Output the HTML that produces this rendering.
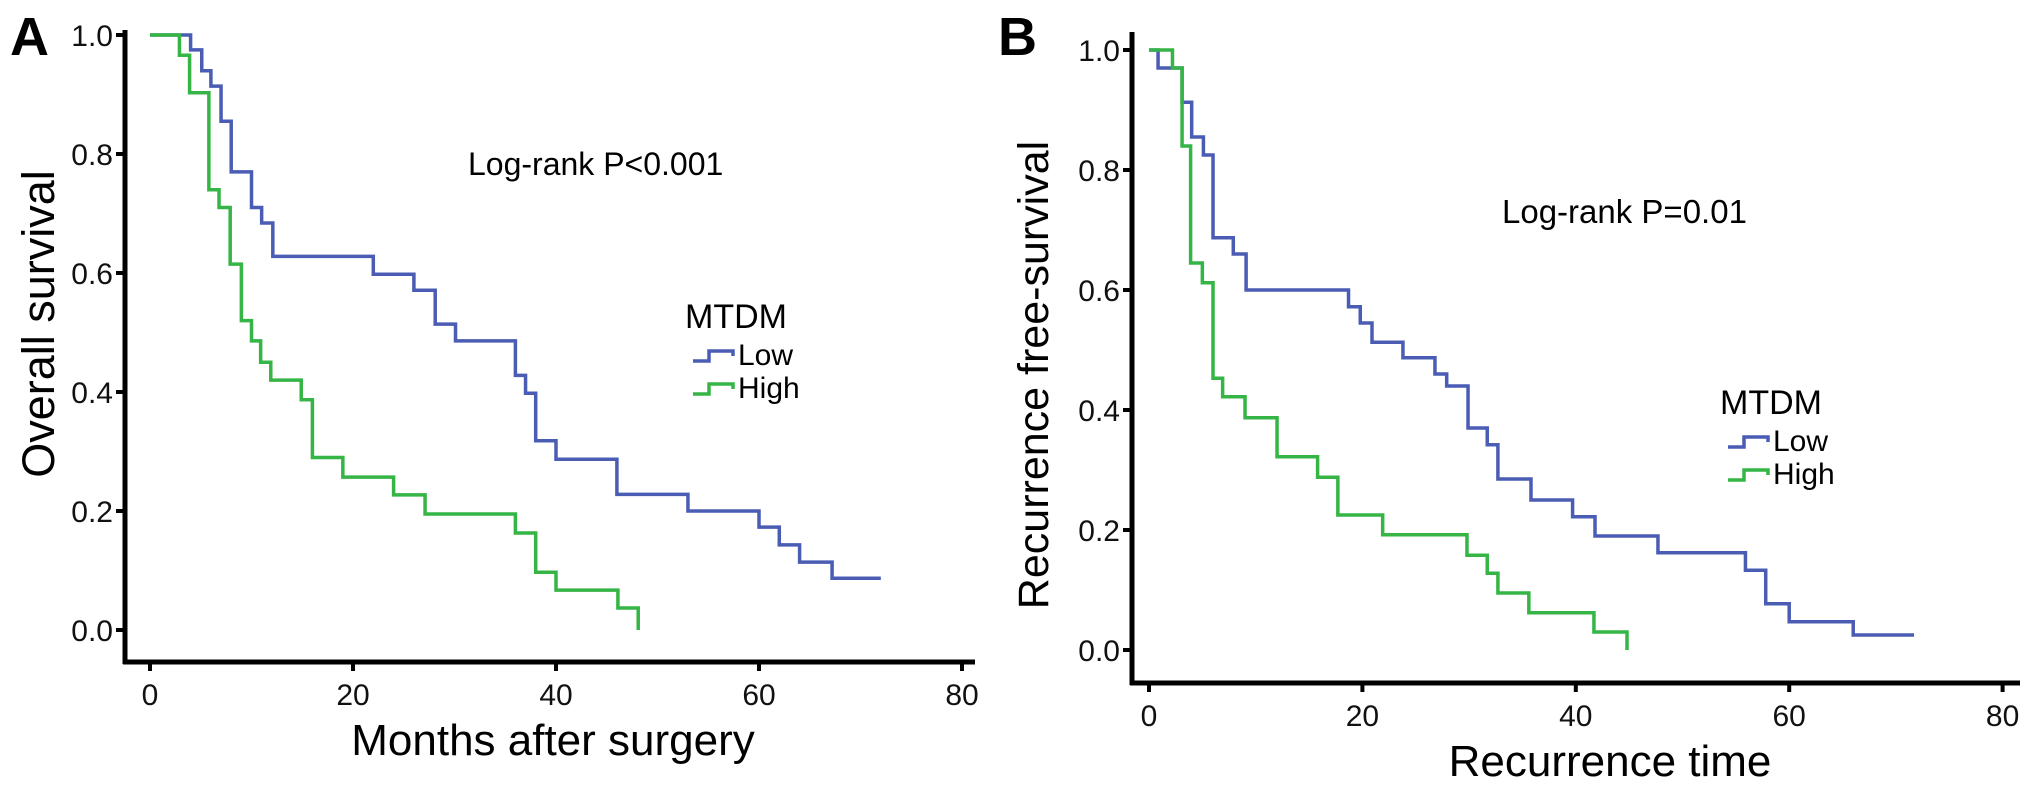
<!DOCTYPE html>
<html><head><meta charset="utf-8"><style>
html,body{margin:0;padding:0;background:#fff;}
svg{display:block;font-family:"Liberation Sans",Arial,sans-serif;}
</style></head><body>
<svg id="fig" width="2031" height="785" viewBox="0 0 2031 785"></svg>
<script>
// Panel A: overall survival (time in months, survival at/after each step)
const aLowTimes = [0,4,5.1,6,7,8,10,11,12.1,22,26,28.1,30.1,36,37,38,40,46,53,60,62,64,67.2,72];
const aLowSurv  = [1,0.975,0.94,0.914,0.855,0.77,0.71,0.684,0.628,0.598,0.571,0.514,0.486,0.428,0.398,0.318,0.287,0.228,0.2,0.173,0.143,0.114,0.087,0.087];
const aHighTimes = [0,2.9,3.9,5.8,6.8,7.9,9,10,10.9,11.9,14.9,16,19,24,27.1,36,38,40,46.1,48.1];
const aHighSurv  = [1,0.966,0.903,0.74,0.71,0.615,0.52,0.486,0.45,0.42,0.387,0.29,0.257,0.227,0.195,0.163,0.097,0.067,0.037,0.0];
// Panel B: recurrence free survival
const bLowTimes = [0,0.85,3.1,4,5.1,6,7.9,9.1,18.7,19.8,20.9,23.8,26.8,27.9,29.9,31.7,32.7,35.8,39.7,41.8,47.7,55.9,57.8,60,66,71.7];
const bLowSurv  = [1,0.97,0.913,0.855,0.825,0.687,0.66,0.6,0.572,0.545,0.513,0.487,0.46,0.44,0.37,0.342,0.285,0.25,0.222,0.19,0.162,0.133,0.077,0.047,0.025,0.025];
const bHighTimes = [0,2.2,3.1,3.9,5,6,6.9,9,12,15.8,17.7,21.9,29.8,31.7,32.7,35.6,41.7,44.8];
const bHighSurv  = [1,0.97,0.84,0.645,0.612,0.453,0.422,0.387,0.322,0.288,0.225,0.192,0.158,0.128,0.095,0.062,0.03,0.0];
const xTicks = [0,20,40,60,80];
const yTicks = [0,0.2,0.4,0.6,0.8,1.0];
const yTickLabels = ["0.0","0.2","0.4","0.6","0.8","1.0"];

const NS="http://www.w3.org/2000/svg";
const svg=document.getElementById('fig');
function mk(tag,attrs,parent){const e=document.createElementNS(NS,tag);for(const k in attrs)e.setAttribute(k,attrs[k]);(parent||svg).appendChild(e);return e;}
function txt(s,attrs,parent){const e=mk('text',attrs,parent);e.textContent=s;return e;}

function panel(cfg){
  const g=mk('g',{});
  
  
  const X=m=>cfg.x0+m*cfg.xs, Y=s=>cfg.y0-s*cfg.ys;
  const ya=mk('line',{x1:cfg.ax,y1:cfg.yTop,x2:cfg.ax,y2:cfg.axY+2,stroke:'#000','stroke-width':5},g);
  
  
  const xa=mk('line',{x1:cfg.ax-2,y1:cfg.axY,x2:cfg.xEnd,y2:cfg.axY,stroke:'#000','stroke-width':5},g);
  
  
  yTicks.forEach((v,i)=>{
    const t=mk('line',{x1:cfg.ax-9,y1:Y(v),x2:cfg.ax,y2:Y(v),stroke:'#000','stroke-width':4},g);
    
    
    const l=txt(yTickLabels[i],{x:cfg.ax-12,y:Y(v)+11,'text-anchor':'end','font-size':30,fill:'#111'},g);
    
    
  });
  xTicks.forEach(v=>{
    const t=mk('line',{x1:X(v),y1:cfg.axY,x2:X(v),y2:cfg.axY+9,stroke:'#000','stroke-width':4},g);
    
    
    const l=txt(String(v),{x:X(v),y:cfg.axY+43,'text-anchor':'middle','font-size':30,fill:'#111'},g);
    
    
  });
  function curve(times,surv,color,name){
    let d='M'+X(times[0])+','+Y(surv[0]);
    for(let i=1;i<times.length;i++){d+=' H'+X(times[i])+' V'+Y(surv[i]);}
    const p=mk('path',{d:d,fill:'none',stroke:color,'stroke-width':3.5},g);
    
    
  }
  curve(cfg.lowT,cfg.lowS,'#4a5cb4','low-curve');
  curve(cfg.highT,cfg.highS,'#35b545','high-curve');
  const lt=txt(cfg.letter,{x:cfg.letterX,y:cfg.letterY,'font-size':54,'font-weight':'bold',fill:'#000'},g);
  
  
  const yt=txt(cfg.ytitle,{x:0,y:0,'text-anchor':'middle','font-size':cfg.yts,fill:'#000',transform:`translate(${cfg.ytx},${cfg.yty}) rotate(-90)`},g);
  
  
  const xt=txt(cfg.xtitle,{x:cfg.xtx,y:cfg.xty,'text-anchor':'middle','font-size':44,fill:'#000'},g);
  
  
  const pv=txt(cfg.ptext,{x:cfg.px,y:cfg.py,'font-size':cfg.ps,fill:'#000'},g);
  
  
  const lg=mk('g',{},g);
  
  
  const lh=txt('MTDM',{x:cfg.lx-8,y:cfg.ly,'font-size':34,fill:'#000'},lg);
  
  
  [['Low','#4a5cb4'],['High','#35b545']].forEach((e,i)=>{
    const yy=cfg.ly+37+i*33;
    const s=mk('path',{d:`M${cfg.lx},${yy-4} h16 v-10 h24 v5`,fill:'none',stroke:e[1],'stroke-width':3.5},lg);
    
    
    const t=txt(e[0],{x:cfg.lx+45,y:yy,'font-size':30,fill:'#000'},lg);
    
    
  });
}

panel({name:'panel-a',x0:150,xs:10.15,y0:630,ys:595,ax:125,axY:662,yTop:30,xEnd:975,
  lowT:aLowTimes,lowS:aLowSurv,highT:aHighTimes,highS:aHighSurv,
  letter:'A',letterX:10,letterY:55,ytitle:'Overall survival',ytx:54,yty:324,yts:45,
  xtitle:'Months after surgery',xtx:553,xty:755,ptext:'Log-rank P<0.001',px:468,py:175,ps:32,
  lx:693,ly:328});
panel({name:'panel-b',x0:1149,xs:10.67,y0:650,ys:600,ax:1132,axY:683,yTop:32,xEnd:2020,
  lowT:bLowTimes,lowS:bLowSurv,highT:bHighTimes,highS:bHighSurv,
  letter:'B',letterX:998,letterY:55,ytitle:'Recurrence free-survival',ytx:1048,yty:375,yts:43,
  xtitle:'Recurrence time',xtx:1610,xty:776,ptext:'Log-rank P=0.01',px:1502,py:223,ps:33,
  lx:1728,ly:414});
</script>
</body></html>
